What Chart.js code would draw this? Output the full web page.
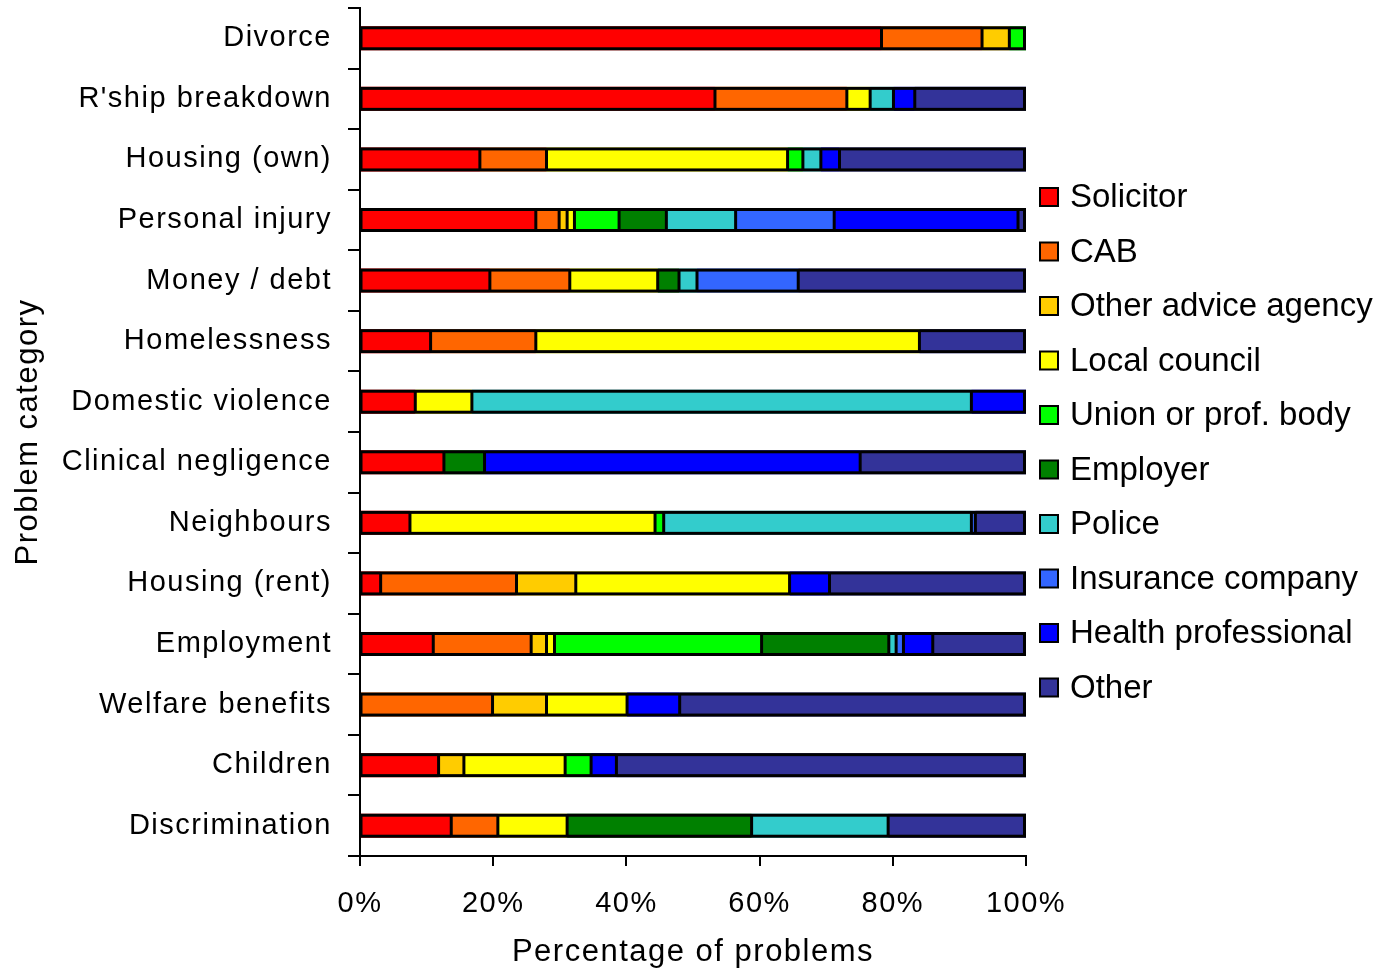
<!DOCTYPE html>
<html>
<head>
<meta charset="utf-8">
<title>Sources of advice by problem category</title>
<script src="https://cdn.jsdelivr.net/npm/chart.js@4/dist/chart.umd.min.js"></script>
<style>
  html, body { margin: 0; padding: 0; background: #ffffff; }
  #wrap { width: 1378px; height: 971px; position: relative; }
</style>
</head>
<body>
<div id="wrap"><canvas id="chart"></canvas></div>
<script>
// Problem categories, listed top to bottom
const categories = [
  'Divorce', "R'ship breakdown", 'Housing (own)', 'Personal injury', 'Money / debt',
  'Homelessness', 'Domestic violence', 'Clinical negligence', 'Neighbours',
  'Housing (rent)', 'Employment', 'Welfare benefits', 'Children', 'Discrimination'
];

// Percentage of problems for each source of advice, one value per category
const solicitor     = [78.3, 53.3, 18.0, 26.4, 19.5, 10.6,  8.3, 12.6,  7.5,  3.1, 11.0,  0.0, 11.8, 13.7];
const cab           = [15.1, 19.8, 10.0,  3.5, 12.0, 15.8,  0.0,  0.0,  0.0, 20.4, 14.7, 19.9,  0.0,  7.0];
const otherAdvice   = [ 4.1,  0.0,  0.0,  1.2,  0.0,  0.0,  0.0,  0.0,  0.0,  8.9,  2.3,  8.1,  3.8,  0.0];
const localCouncil  = [ 0.0,  3.5, 36.2,  1.1, 13.2, 57.6,  8.5,  0.0, 36.8, 32.1,  1.2, 12.1, 15.2, 10.4];
const unionBody     = [ 2.5,  0.0,  2.3,  6.7,  0.0,  0.0,  0.0,  0.0,  1.3,  0.0, 31.1,  0.0,  3.9,  0.0];
const employer      = [ 0.0,  0.0,  0.0,  7.1,  3.2,  0.0,  0.0,  6.1,  0.0,  0.0, 19.1,  0.0,  0.0, 27.7];
const police        = [ 0.0,  3.5,  2.7, 10.4,  2.7,  0.0, 75.0,  0.0, 46.2,  0.0,  1.1,  0.0,  0.0, 20.5];
const insurance     = [ 0.0,  0.0,  0.0, 14.8, 15.2,  0.0,  0.0,  0.0,  0.6,  0.0,  1.1,  0.0,  0.0,  0.0];
const health        = [ 0.0,  3.2,  2.8, 27.6,  0.0,  0.0,  8.2, 56.4,  0.0,  6.0,  4.4,  7.9,  3.8,  0.0];
const other         = [ 0.0, 16.7, 28.0,  1.2, 34.2, 16.0,  0.0, 24.9,  7.6, 29.5, 14.0, 52.0, 61.5, 20.7];

// Series names and x-axis tick values
const seriesNames = [
  'Solicitor', 'CAB', 'Other advice agency', 'Local council', 'Union or prof. body',
  'Employer', 'Police', 'Insurance company', 'Health professional', 'Other'
];
const seriesValues = [solicitor, cab, otherAdvice, localCouncil, unionBody,
                      employer, police, insurance, health, other];
const xTicks = [0, 20, 40, 60, 80, 100];

const seriesColors = ['#FF0000', '#FF6600', '#FFCC00', '#FFFF00', '#00FF00',
                      '#008000', '#33CCCC', '#3366FF', '#0000FF', '#333399'];

const FONT = "'Liberation Sans', Arial, Helvetica, sans-serif";
const BAR_THICKNESS = 24;

const datasets = seriesNames.map((name, i) => ({
  label: name,
  data: seriesValues[i].map(v => (v > 0 ? v : null)),
  backgroundColor: seriesColors[i],
  borderWidth: 0,
  barThickness: BAR_THICKNESS,
  inflateAmount: 0
}));

// Wider glyph spacing for the axis text
const spacingPlugin = {
  id: 'textSpacing',
  beforeDraw(chart) { chart.ctx.letterSpacing = '1.5px'; },
  afterDraw(chart) { chart.ctx.letterSpacing = '0px'; }
};

// Black outline round each bar and dividers between its segments
const barOutline = {
  id: 'barOutline',
  afterDatasetsDraw(chart) {
    const ctx = chart.ctx;
    const xs = chart.scales.x;
    const ys = chart.scales.y;
    const half = BAR_THICKNESS / 2;
    const lw = 3;
    ctx.save();
    ctx.strokeStyle = '#000000';
    ctx.lineWidth = lw;
    categories.forEach((c, i) => {
      const y = ys.getPixelForValue(i);
      const top = y - half + lw / 2;
      const bottom = y + half - lw / 2;
      let cum = 0;
      const edges = [];
      seriesValues.forEach(arr => {
        if (arr[i] > 0) { cum += arr[i]; edges.push(cum); }
      });
      const x0 = xs.getPixelForValue(0);
      const x1 = xs.getPixelForValue(cum);
      edges.slice(0, -1).forEach(e => {
        const x = xs.getPixelForValue(e);
        ctx.beginPath();
        ctx.moveTo(x, top);
        ctx.lineTo(x, bottom);
        ctx.stroke();
      });
      ctx.strokeRect(x0 + 1, top, x1 - x0 - 1 - lw / 2, bottom - top);
    });
    ctx.restore();
  }
};

// Legend column drawn to the right of the plot
const sideLegend = {
  id: 'sideLegend',
  afterDraw(chart) {
    const ctx = chart.ctx;
    ctx.save();
    ctx.letterSpacing = '0px';
    ctx.font = '33px ' + FONT;
    ctx.textBaseline = 'middle';
    ctx.textAlign = 'left';
    chart.data.datasets.forEach((ds, i) => {
      const cy = 197 + i * 54.5;
      ctx.fillStyle = ds.backgroundColor;
      ctx.fillRect(1040, cy - 9, 18, 18);
      ctx.lineWidth = 2;
      ctx.strokeStyle = '#000000';
      ctx.strokeRect(1040, cy - 9, 18, 18);
      ctx.fillStyle = '#000000';
      ctx.fillText(ds.label, 1070, cy + 1);
    });
    ctx.restore();
  }
};

new Chart(document.getElementById('chart'), {
  type: 'bar',
  data: { labels: categories, datasets },
  plugins: [spacingPlugin, barOutline, sideLegend],
  options: {
    indexAxis: 'y',
    responsive: true,
    maintainAspectRatio: false,
    animation: false,
    layout: { padding: { top: 8, right: 352, left: 0, bottom: 0 } },
    plugins: {
      legend: { display: false },
      tooltip: { enabled: false }
    },
    scales: {
      x: {
        stacked: true,
        min: 0,
        max: 100,
        afterBuildTicks(scale) { scale.ticks = xTicks.map(v => ({ value: v })); },
        afterFit(scale) { scale.height = 115; },
        ticks: {
          color: '#000000',
          font: { family: FONT, size: 29 },
          padding: 21,
          callback: v => v + '%'
        },
        grid: {
          display: true,
          drawOnChartArea: false,
          drawTicks: true,
          tickLength: 10,
          color: '#000000',
          lineWidth: 2
        },
        border: { display: true, color: '#000000', width: 2 },
        title: {
          display: true,
          text: 'Percentage of problems',
          color: '#000000',
          font: { family: FONT, size: 31 },
          padding: { top: 0, bottom: 0 }
        }
      },
      y: {
        stacked: true,
        afterFit(scale) {
          scale.width = 360;
          scale.paddingTop = 0;
          scale.paddingBottom = 0;
        },
        ticks: {
          color: '#000000',
          font: { family: FONT, size: 29 },
          padding: 16,
          autoSkip: false
        },
        grid: {
          display: true,
          offset: true,
          drawOnChartArea: false,
          drawTicks: true,
          tickLength: 12,
          color: '#000000',
          lineWidth: 2
        },
        border: { display: true, color: '#000000', width: 2 },
        title: {
          display: true,
          text: 'Problem category',
          color: '#000000',
          font: { family: FONT, size: 31 },
          padding: { top: 10, bottom: 0 }
        }
      }
    }
  }
});
</script>
</body>
</html>
